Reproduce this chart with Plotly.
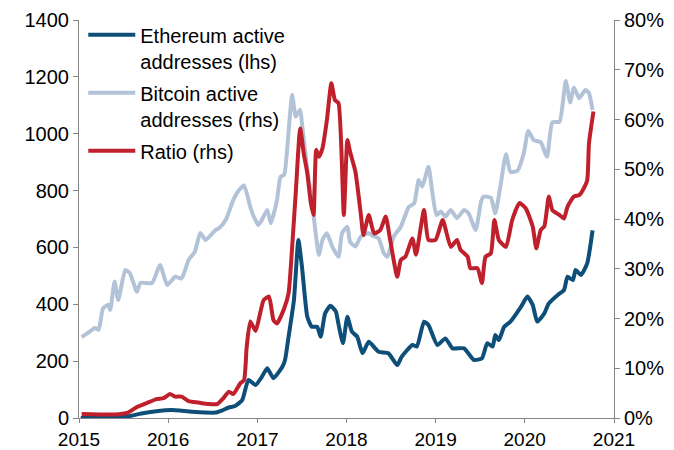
import pandas as pd
import plotly.graph_objects as go

# Decimal-year dates and values
btc_t = [2015.03, 2015.08, 2015.18, 2015.22, 2015.27, 2015.33, 2015.35, 2015.40, 2015.44, 2015.52,
         2015.57, 2015.65, 2015.69, 2015.82, 2015.91, 2015.99, 2016.08, 2016.15, 2016.23, 2016.30,
         2016.36, 2016.42, 2016.53, 2016.58, 2016.65, 2016.73, 2016.79, 2016.85, 2016.92, 2016.96,
         2017.01, 2017.05, 2017.11, 2017.15, 2017.18, 2017.22, 2017.26, 2017.30, 2017.33, 2017.39,
         2017.43, 2017.48, 2017.50, 2017.56, 2017.61, 2017.65, 2017.69, 2017.73, 2017.78, 2017.84,
         2017.91, 2017.95, 2018.01, 2018.04, 2018.10, 2018.16, 2018.25, 2018.30, 2018.36, 2018.42,
         2018.46, 2018.53, 2018.61, 2018.70, 2018.76, 2018.81, 2018.85, 2018.92, 2018.96, 2019.01,
         2019.06, 2019.11, 2019.17, 2019.24, 2019.32, 2019.37, 2019.45, 2019.51, 2019.54, 2019.62,
         2019.67, 2019.73, 2019.79, 2019.84, 2019.92, 2019.99, 2020.04, 2020.10, 2020.18, 2020.25,
         2020.31, 2020.39, 2020.46, 2020.51, 2020.55, 2020.61, 2020.68, 2020.72, 2020.76]
btc_v = [285, 295, 317, 310, 386, 398, 380, 480, 415, 521,
         510, 444, 475, 475, 538, 468, 497, 491, 556, 585,
         651, 626, 661, 670, 700, 767, 800, 818, 743, 708,
         679, 697, 732, 685, 714, 767, 849, 855, 931, 1136,
         1060, 1084, 1037, 872, 767, 661, 573, 626, 650, 603,
         567, 650, 673, 620, 603, 638, 650, 640, 632, 579,
         567, 638, 673, 743, 755, 837, 814, 884, 802, 714,
         726, 708, 732, 703, 732, 720, 661, 760, 779, 775,
         720, 820, 928, 866, 870, 931, 1010, 978, 970, 919,
         1040, 1042, 1185, 1110, 1163, 1125, 1154, 1142, 1084]

eth_t = [2015.02, 2015.35, 2015.55, 2015.70, 2015.89, 2016.04, 2016.27, 2016.53, 2016.60, 2016.68,
         2016.75, 2016.83, 2016.90, 2016.98, 2017.05, 2017.11, 2017.18, 2017.28, 2017.31, 2017.35,
         2017.41, 2017.46, 2017.50, 2017.56, 2017.61, 2017.67, 2017.71, 2017.76, 2017.82, 2017.88,
         2017.91, 2017.96, 2018.01, 2018.06, 2018.12, 2018.18, 2018.25, 2018.36, 2018.47, 2018.57,
         2018.62, 2018.74, 2018.79, 2018.87, 2018.92, 2019.02, 2019.11, 2019.19, 2019.32, 2019.43,
         2019.52, 2019.58, 2019.64, 2019.67, 2019.71, 2019.77, 2019.84, 2019.96, 2020.03, 2020.09,
         2020.14, 2020.22, 2020.27, 2020.37, 2020.44, 2020.48, 2020.54, 2020.57, 2020.63, 2020.70,
         2020.76]
eth_v = [0, 2, 6, 16, 25, 28, 22, 19, 26, 37,
         42, 63, 134, 116, 145, 175, 140, 180, 204, 286,
         415, 626, 532, 356, 321, 321, 286, 368, 395, 375,
         330, 263, 356, 304, 286, 228, 268, 233, 228, 186,
         216, 257, 251, 339, 327, 257, 280, 245, 245, 204,
         210, 263, 251, 292, 274, 321, 339, 392, 427, 398,
         339, 368, 403, 433, 450, 497, 485, 521, 503, 544,
         660]

ratio_t = [2015.03, 2015.40, 2015.55, 2015.65, 2015.76, 2015.87, 2015.95, 2016.02, 2016.08, 2016.15,
           2016.23, 2016.34, 2016.45, 2016.55, 2016.62, 2016.68, 2016.73, 2016.81, 2016.85, 2016.88,
           2016.92, 2016.98, 2017.03, 2017.07, 2017.13, 2017.18, 2017.22, 2017.30, 2017.35, 2017.39,
           2017.43, 2017.48, 2017.52, 2017.56, 2017.60, 2017.63, 2017.66, 2017.69, 2017.73, 2017.78,
           2017.83, 2017.87, 2017.91, 2017.97, 2018.01, 2018.04, 2018.10, 2018.16, 2018.19, 2018.25,
           2018.31, 2018.38, 2018.44, 2018.49, 2018.57, 2018.61, 2018.66, 2018.74, 2018.78, 2018.87,
           2018.92, 2019.00, 2019.08, 2019.17, 2019.24, 2019.28, 2019.36, 2019.39, 2019.47, 2019.52,
           2019.56, 2019.62, 2019.66, 2019.71, 2019.79, 2019.86, 2019.94, 2020.01, 2020.09, 2020.13,
           2020.18, 2020.22, 2020.27, 2020.31, 2020.39, 2020.44, 2020.48, 2020.55, 2020.61, 2020.65,
           2020.70, 2020.72, 2020.77]
ratio_v = [0.8, 0.7, 1.1, 2.2, 3.0, 3.8, 4.0, 4.8, 4.3, 4.3,
           3.4, 3.1, 2.8, 2.8, 4.0, 5.3, 4.8, 7.0, 7.6, 14.3,
           19.4, 17.5, 21.0, 23.7, 24.4, 19.7, 19.0, 22.0, 25.1, 34.4,
           45.2, 58.2, 53.2, 49.2, 43.2, 40.8, 53.9, 52.5, 54.2, 59.9,
           67.3, 63.9, 63.3, 40.8, 55.9, 53.5, 49.5, 41.1, 36.8, 40.8,
           37.1, 37.8, 40.5, 35.8, 28.4, 31.8, 32.4, 36.1, 32.8, 41.8,
           35.8, 35.8, 39.8, 34.4, 35.8, 33.8, 32.4, 30.1, 30.1, 27.1,
           32.4, 33.1, 39.8, 35.8, 34.4, 39.8, 43.2, 42.2, 38.5, 34.1,
           37.8, 38.5, 44.5, 41.8, 40.8, 40.1, 42.5, 44.5, 44.8, 45.8,
           47.8, 55.2, 61.6]

x_ticks = ["2015", "2016", "2017", "2018", "2019", "2020", "2021"]


def to_date(yrs):
    out = []
    for y in yrs:
        yr = int(y)
        start = pd.Timestamp(year=yr, month=1, day=1)
        end = pd.Timestamp(year=yr + 1, month=1, day=1)
        out.append(start + (end - start) * (y - yr))
    return out


FONT = "Liberation Sans, Arial, sans-serif"
AX = "#868686"

fig = go.Figure()
fig.add_trace(go.Scatter(x=to_date(eth_t), y=eth_v, mode="lines", legendgroup="g1",
                         name="Ethereum active<br>addresses (lhs)",
                         line=dict(color="#0E4F79", width=4, shape="spline", smoothing=0.5)))
fig.add_trace(go.Scatter(x=to_date(btc_t), y=btc_v, mode="lines", legendgroup="g2",
                         name="Bitcoin active<br>addresses (rhs)",
                         line=dict(color="#B2C3D8", width=4, shape="spline", smoothing=0.5)))
fig.add_trace(go.Scatter(x=to_date(ratio_t), y=ratio_v, mode="lines", yaxis="y2", legendgroup="g3",
                         name="Ratio (rhs)",
                         line=dict(color="#C0202B", width=4, shape="spline", smoothing=0.5)))

fig.update_layout(
    width=674, height=450,
    margin=dict(l=79, r=60, t=20, b=32, autoexpand=False),
    paper_bgcolor="white", plot_bgcolor="white",
    font=dict(family=FONT, size=20, color="#000000"),
    showlegend=True,
    legend=dict(x=0.008, y=1.012, xanchor="left", yanchor="top",
                bgcolor="rgba(0,0,0,0)", font=dict(size=20),
                itemwidth=47, valign="top", tracegroupgap=3),
    xaxis=dict(type="date", automargin=False,
               range=[pd.Timestamp("2015-01-01"), pd.Timestamp("2021-01-01")],
               tickvals=[pd.Timestamp(f"{t}-01-01") for t in x_ticks],
               ticktext=x_ticks, tickfont=dict(size=19),
               showgrid=False, zeroline=False,
               showline=True, linecolor=AX, linewidth=1,
               ticks="outside", ticklen=4, tickcolor=AX),
    yaxis=dict(range=[0, 1400], dtick=200, showgrid=False, zeroline=False, automargin=False,
               showline=True, linecolor=AX, linewidth=1,
               ticks="outside", ticklen=5, tickcolor=AX),
    yaxis2=dict(range=[0, 80], dtick=10, ticksuffix="%", overlaying="y", side="right",
                showgrid=False, zeroline=False, automargin=False,
                showline=True, linecolor=AX, linewidth=1,
                ticks="outside", ticklen=5, tickcolor=AX),
)

fig.write_html("out.html", config={"displayModeBar": False},
               post_script="document.body.style.margin='0';document.body.style.padding='0';")
